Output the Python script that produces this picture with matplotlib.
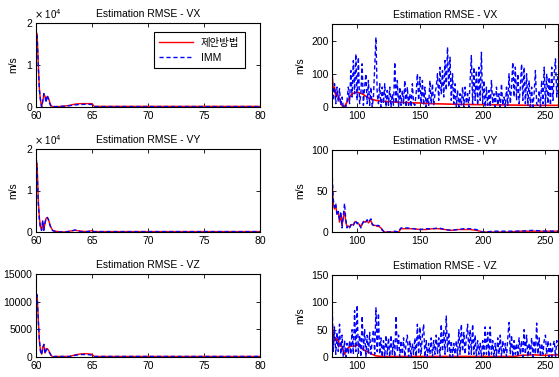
import matplotlib
matplotlib.use("Agg")
import matplotlib.pyplot as plt
import numpy as np

plt.rcParams['font.family'] = ['Liberation Sans', 'Noto Sans CJK KR', 'DejaVu Sans']

# ---------------- data ----------------
legend_labels = ['제안방법', 'IMM']
titles = ['Estimation RMSE - VX', 'Estimation RMSE - VY', 'Estimation RMSE - VZ']

# left panels (time 60..80)
left_x = [60.0, 60.1, 60.2, 60.3, 60.4, 60.5, 60.6, 60.7, 60.8, 60.9, 61.0, 61.1,
          61.2, 61.3, 61.4, 61.5, 61.7, 62.0, 62.5, 63.0, 63.5, 64.0, 64.5, 65.0,
          65.2, 66.0, 70.0, 75.0, 80.0]
vx_left_prop = [17500, 17500, 10500, 4500, 1500, 0, 1200, 3000, 2600, 1800, 2500, 2200,
                1400, 600, 200, 100, 100, 100, 200, 400, 700, 800, 800, 800,
                150, 150, 150, 150, 150]
vx_left_imm = [17000, 17000, 10000, 4000, 1800, 0, 1500, 3200, 2400, 1000, 2800, 2000,
               1000, 300, 100, 100, 100, 100, 200, 300, 500, 600, 650, 600,
               100, 100, 100, 100, 100]
vy_left_prop = [16500, 16500, 8000, 3500, 1200, 500, 2600, 600, 2000, 3300, 3500, 3000,
                2200, 1400, 800, 400, 200, 100, 0, 200, 400, 200, 100, 300,
                100, 100, 100, 100, 100]
vy_left_imm = [19000, 15000, 7000, 3000, 800, 400, 2800, 400, 2200, 3400, 3500, 3100,
               2000, 1200, 600, 300, 150, 50, 0, 150, 500, 100, 100, 200,
               100, 100, 100, 100, 100]
vz_left_prop = [11300, 11300, 7000, 3000, 1200, 500, 1800, 2200, 700, 1500, 1500, 1300,
                900, 500, 200, 0, 100, 100, 100, 100, 400, 550, 600, 500,
                100, 100, 100, 100, 100]
vz_left_imm = [11000, 11200, 6800, 3000, 1000, 400, 1500, 2300, 600, 1200, 1400, 1200,
               800, 400, 100, 0, 100, 100, 100, 100, 300, 450, 450, 350,
               100, 100, 100, 100, 100]

# right panels (time 80..260)
right_x = list(range(80, 261))
vx_right_imm = [100, 20, 70, 10, 60, 15, 55, 5, 30, 0,
                5, 0, 20, 60, 10, 110, 30, 140, 40, 160,
                20, 150, 10, 40, 130, 5, 60, 100, 10, 80,
                5, 60, 0, 30, 120, 210, 40, 10, 70, 0,
                60, 10, 70, 0, 50, 5, 60, 0, 40, 5,
                135, 10, 80, 0, 60, 5, 50, 10, 80, 0,
                60, 5, 40, 0, 70, 10, 5, 40, 100, 20,
                90, 10, 80, 5, 60, 0, 30, 5, 80, 10,
                70, 5, 40, 60, 100, 20, 120, 40, 110, 30,
                140, 50, 180, 60, 150, 20, 100, 10, 70, 0,
                50, 0, 40, 5, 60, 0, 60, 10, 40, 0,
                80, 155, 10, 120, 20, 110, 5, 120, 20, 165,
                10, 80, 0, 60, 5, 50, 0, 80, 10, 40,
                0, 60, 5, 40, 0, 70, 5, 30, 0, 60,
                5, 100, 10, 60, 135, 30, 120, 20, 100, 10,
                60, 130, 20, 120, 10, 100, 5, 80, 0, 60,
                0, 40, 110, 10, 5, 50, 0, 80, 10, 120,
                5, 100, 10, 90, 5, 120, 20, 100, 145, 30,
                100]
vz_right_imm = [112, 10, 55, 5, 45, 10, 60, 5, 40, 0,
                30, 0, 25, 5, 30, 5, 50, 5, 85, 10,
                95, 5, 40, 0, 75, 10, 50, 0, 40, 5,
                45, 5, 30, 50, 5, 90, 10, 80, 5, 35,
                0, 30, 0, 40, 5, 35, 0, 40, 5, 30,
                0, 75, 10, 40, 0, 30, 5, 35, 0, 25,
                40, 0, 30, 0, 25, 5, 35, 0, 60, 5,
                55, 5, 40, 60, 0, 30, 0, 25, 5, 35,
                0, 30, 5, 40, 5, 35, 0, 60, 10, 50,
                5, 75, 10, 45, 0, 30, 0, 25, 5, 30,
                0, 50, 5, 60, 10, 45, 5, 35, 60, 5,
                50, 5, 60, 5, 40, 0, 30, 5, 25, 0,
                30, 5, 55, 5, 45, 0, 55, 5, 30, 0,
                25, 0, 35, 5, 40, 0, 30, 5, 25, 0,
                35, 63, 5, 40, 0, 30, 5, 25, 0, 35,
                5, 30, 0, 50, 5, 40, 0, 25, 5, 35,
                0, 30, 5, 62, 5, 35, 0, 25, 5, 30,
                40, 5, 30, 0, 25, 0, 20, 30, 0, 30,
                20]

vx_prop_x = [80, 81, 82, 83, 84, 85, 86, 87, 88, 89, 90, 92, 94, 96, 98, 100, 102, 104,
             106, 108, 110, 115, 120, 130, 140, 150, 160, 170, 180, 200, 220, 240, 260]
vx_right_prop = [105, 50, 60, 35, 45, 30, 25, 12, 5, 0, 2, 15, 30, 40, 42, 45, 42, 40,
                 35, 30, 25, 20, 17, 15, 13, 12, 10, 9, 8, 7, 6, 5, 5]

vz_prop_x = [80, 81, 82, 83, 84, 85, 86, 87, 88, 89, 90, 92, 95, 98, 100, 102, 104, 106,
             108, 112, 115, 120, 150, 200, 225, 230, 240, 250, 260]
vz_right_prop = [65, 40, 30, 35, 30, 32, 20, 22, 18, 10, 5, 15, 20, 20, 22, 20, 15, 12,
                 10, 5, 2, 1, 1, 1, 1, 3, 4, 3, 4]

vy_x = [80, 81, 82, 83, 84, 85, 86, 87, 88, 89, 90, 91, 92, 93, 94, 95, 96, 97, 98, 99,
        100, 101, 102, 103, 104, 105, 106, 107, 108, 109, 110, 111, 112, 113, 114, 115,
        116, 117, 118, 119, 120, 121, 122, 126, 130, 133, 134, 135, 140, 145, 150, 155,
        160, 165, 170, 175, 180, 185, 190, 195, 198, 200, 210, 220, 230, 240, 250, 260]
vy_right_imm = [75, 40, 30, 35, 20, 25, 15, 25, 5, 20, 35, 15, 5, 8, 5, 8, 10, 8, 12, 14,
                10, 12, 8, 5, 10, 12, 14, 12, 15, 12, 14, 16, 10, 8, 9, 7,
                8, 8, 7, 5, 3, 1, 0, 0, 1, 0, 3, 5, 5, 4, 3, 4,
                4, 5, 3, 2, 3, 4, 4, 3, 1, 0, 1, 1, 1, 2, 1, 1]
vy_right_prop = [65, 35, 28, 32, 22, 24, 12, 22, 8, 18, 25, 12, 6, 7, 6, 9, 9, 9, 11, 13,
                 11, 10, 9, 6, 9, 13, 12, 13, 14, 11, 13, 14, 9, 8, 8, 8,
                 7, 7, 6, 5, 2, 1, 0, 0, 0, 0, 2, 4, 4, 4, 3, 3,
                 4, 4, 3, 2, 3, 3, 3, 2, 1, 0, 0, 0, 1, 1, 1, 1]

# ---------------- figure ----------------
fig = plt.figure(figsize=(5.59, 3.77), dpi=100)
W, H = 559.0, 377.0

def rect(l, t, r, b):
    return [l / W, 1 - b / H, (r - l) / W, (b - t) / H]

red = '#ff0000'
blue = '#0000ff'
dash = (0, (3, 2))

left_rects = [rect(36, 23, 260, 107), rect(36, 149, 260, 232), rect(36, 274, 260, 357)]
right_rects = [rect(332, 24, 558, 107), rect(332, 150, 558, 232), rect(332, 275, 558, 357)]

left_data = [(vx_left_prop, vx_left_imm), (vy_left_prop, vy_left_imm), (vz_left_prop, vz_left_imm)]
left_ylim = [(0, 20000), (0, 20000), (0, 15000)]
left_yticks = [[0, 10000, 20000], [0, 10000, 20000], [0, 5000, 10000, 15000]]
left_ylabels = [['0', '1', '2'], ['0', '1', '2'], ['0', '5000', '10000', '15000']]

def style(ax):
    ax.tick_params(direction='in', length=3, width=0.6, labelsize=7.5,
                   top=True, right=True)
    ax.tick_params(axis='x', pad=3)
    ax.tick_params(axis='y', pad=2.5)
    for s in ax.spines.values():
        s.set_linewidth(0.8)
        s.set_color('black')

for i in range(3):
    ax = fig.add_axes(left_rects[i])
    p, m = left_data[i]
    l1, = ax.plot(left_x, p, color=red, lw=1.0)
    l2, = ax.plot(left_x, m, color=blue, lw=1.0, linestyle=dash)
    ax.set_xlim(60, 80)
    ax.set_ylim(*left_ylim[i])
    ax.set_xticks([60, 65, 70, 75, 80])
    ax.set_yticks(left_yticks[i])
    ax.set_yticklabels(left_ylabels[i])
    ax.set_title(titles[i], fontsize=7.5, pad=4)
    style(ax)
    if i < 2:
        ax.set_ylabel('m/s', fontsize=7.5, labelpad=6)
        ax.text(-0.01, 1.02, r'$\times$ 10$^4$', transform=ax.transAxes,
                fontsize=7, ha='left', va='bottom')
    if i == 0:
        leg = ax.legend([l1, l2], legend_labels, loc='upper right', fontsize=7.5,
                        fancybox=False, edgecolor='black', framealpha=1,
                        handlelength=3.2, borderpad=0.5, labelspacing=0.5,
                        bbox_to_anchor=(0.955, 0.95))
        leg.get_frame().set_linewidth(0.8)

right_ylim = [(0, 250), (0, 100), (0, 150)]
right_yticks = [[0, 100, 200], [0, 50, 100], [0, 50, 100, 150]]

for i in range(3):
    ax = fig.add_axes(right_rects[i])
    if i == 0:
        ax.plot(vx_prop_x, vx_right_prop, color=red, lw=1.2)
        ax.plot(right_x, vx_right_imm, color=blue, lw=1.0, linestyle=dash)
    elif i == 1:
        ax.plot(vy_x, vy_right_prop, color=red, lw=1.0)
        ax.plot(vy_x, vy_right_imm, color=blue, lw=1.0, linestyle=dash)
    else:
        ax.plot(vz_prop_x, vz_right_prop, color=red, lw=1.2)
        ax.plot(right_x, vz_right_imm, color=blue, lw=1.0, linestyle=dash)
    ax.set_xlim(80, 260)
    ax.set_ylim(*right_ylim[i])
    ax.set_xticks([100, 150, 200, 250])
    ax.set_yticks(right_yticks[i])
    ax.set_title(titles[i], fontsize=7.5, pad=4)
    ax.set_ylabel('m/s', fontsize=7.5, labelpad=4)
    style(ax)

fig.savefig('out.png', dpi=100)
